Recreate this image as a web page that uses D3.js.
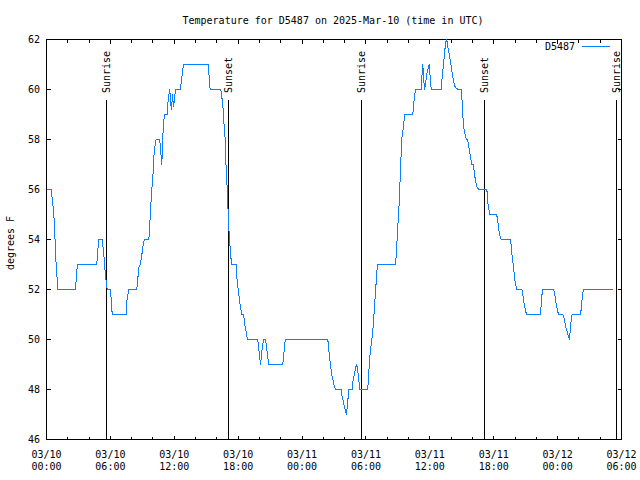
<!DOCTYPE html>
<html><head><meta charset="utf-8">
<script src="https://cdn.jsdelivr.net/npm/d3@7"></script>
<style>
body{margin:0;background:#fff}
svg{display:block}
text{font-family:"DejaVu Sans Mono","Liberation Mono",monospace;font-size:10px;fill:#000}
</style>
</head><body>
<svg id="chart" width="640" height="480"></svg>
<script>
// ---- data (hours since 2025-03-10 00:00 UTC, temperature in F) ----
const hours = [0.00,0.44,0.52,0.56,0.66,0.75,0.85,0.94,1.03,1.08,2.70,2.75,2.82,2.86,2.94,4.72,4.79,4.86,4.91,5.23,
5.29,5.35,5.45,5.51,5.61,5.70,5.98,6.04,6.10,6.17,7.48,7.54,7.64,7.73,8.48,8.57,8.67,8.80,8.89,8.99,
9.08,9.18,9.61,9.67,9.77,9.86,9.98,10.08,10.21,10.30,10.61,10.68,10.77,10.83,10.92,11.02,11.11,11.34,11.39,11.49,
11.58,11.65,11.74,11.83,11.93,12.02,12.11,12.58,12.65,12.74,12.80,12.89,15.19,15.24,15.31,15.37,16.37,16.43,16.53,16.59,
16.69,16.78,16.84,16.90,16.97,17.03,17.09,17.19,17.31,17.40,17.82,17.87,17.97,18.06,18.15,18.25,18.34,18.50,18.57,18.66,
18.75,18.88,19.84,19.91,20.00,20.10,20.22,20.31,20.41,20.57,20.66,20.75,20.88,22.19,22.26,22.35,22.42,26.42,26.51,26.61,
26.70,26.79,26.89,26.98,27.14,27.68,27.73,27.83,27.92,28.05,28.17,28.24,28.33,28.39,28.71,28.77,28.86,28.95,29.05,29.14,
29.24,29.33,29.42,30.17,30.27,30.40,30.52,30.64,30.74,30.83,30.93,31.02,31.11,32.78,32.87,32.96,33.09,33.22,33.31,33.40,
33.53,33.62,34.40,34.47,34.56,34.65,35.19,35.25,35.34,35.41,35.50,35.62,35.71,35.81,35.94,36.03,36.13,37.07,37.16,37.26,
37.35,37.44,37.54,37.63,37.73,37.82,37.91,38.01,38.16,38.25,38.38,38.63,38.95,39.04,39.16,39.42,39.54,39.66,39.82,39.94,
40.10,40.19,40.41,40.60,41.29,41.39,41.44,41.54,41.63,42.23,42.33,42.42,42.51,42.61,42.70,43.58,43.67,43.76,43.86,43.95,
44.05,44.17,44.64,44.73,44.83,44.92,45.01,45.11,46.39,46.49,46.58,47.64,47.74,47.83,47.92,48.02,48.11,48.49,48.58,48.68,
48.77,48.90,49.02,49.12,49.21,49.30,49.37,50.15,50.24,50.34,50.43,53.18];
const temps = [56,56,55.7,55.5,55.2,54.5,53.5,52.7,52.3,52,52,52.2,52.5,52.8,53,53,53.4,53.8,54,54,
53.8,53.5,53.1,52.7,52.3,52,52,51.8,51.5,51,51,51.5,51.8,52,52,52.4,52.9,53,53.2,53.5,
53.8,54,54,54.4,55.1,55.9,56.4,57.3,57.8,58,58,57.8,57.3,57,58.1,58.8,59,59,59.4,59.8,
60,59.5,59.2,59.8,59.3,59.6,60,60,60.3,60.6,60.8,61,61,60.7,60.3,60,60,59.8,59.5,59.2,
58.5,58,57.1,56.7,56,55.4,54.7,54,53.3,53,53,52.5,52.1,51.8,51.5,51.2,51,51,50.8,50.5,
50.3,50,50,49.7,49.4,49,49.5,49.8,50,50,49.7,49.4,49,49,49.3,49.7,50,50,49.6,49.2,
48.9,48.6,48.4,48.2,48,48,47.8,47.6,47.4,47.2,47,47.3,47.7,48,48,48.3,48.5,48.7,48.9,49,
48.7,48.4,48,48,48.7,49.5,49.9,50.3,50.9,51.5,52.1,52.7,53,53,53.5,54.3,55.2,56.5,57.5,58.2,
58.5,59,59,59.4,59.7,60,60,60.5,61,60.5,60,60.3,60.6,60.8,61,60.5,60,60,60.5,60.9,
61.3,61.7,62,61.9,61.6,61.4,61.2,60.9,60.5,60.3,60.1,60,60,59.5,58.5,58,58,57.7,57.3,57,
57,56.6,56.1,56,56,55.9,55.5,55.2,55,55,54.9,54.6,54.3,54.1,54,54,53.6,53.2,52.9,52.5,
52.2,52,52,51.8,51.5,51.3,51.1,51,51,51.6,52,52,51.8,51.5,51.3,51.1,51,51,50.9,50.7,
50.5,50.3,50.1,50,50.5,50.9,51,51,51.3,51.8,52,52];
const eventHours = [5.63, 17.09, 29.58, 41.13, 53.53];
const eventLabels = ["Sunrise", "Sunset", "Sunrise", "Sunset", "Sunrise"];
const yTicks = [46, 48, 50, 52, 54, 56, 58, 60, 62];
const titleText = "Temperature for D5487 on 2025-Mar-10 (time in UTC)";
const seriesName = "D5487";
const yLabelText = "degrees F";

// ---- drawing ----
const t0 = Date.UTC(2025, 2, 10);
const toDate = h => new Date(t0 + h * 3600e3);
const L = 46.5, R = 621.5, T = 39.5, B = 439.5;
const x = d3.scaleUtc().domain([toDate(0), toDate(54)]).range([L, R]);
const y = d3.scaleLinear().domain([46, 62]).range([B, T]);
const svg = d3.select("#chart");
const lineColor = "#0a7fff";

const majorTicks = x.ticks(d3.utcHour.every(6));
const minorTicks = x.ticks(d3.utcHour.every(2)).filter(d => d.getUTCHours() % 6 !== 0);

function styleAxis(g) {
  g.select(".domain").remove();
  g.selectAll("line").attr("stroke", "#000").attr("shape-rendering", "crispEdges");
  g.attr("font-family", null).attr("font-size", null);
}

// minor x ticks (bottom & top)
svg.append("g").attr("transform", `translate(0,${B})`)
  .call(d3.axisBottom(x).tickValues(minorTicks).tickSize(-3).tickFormat("").offset(0)).call(styleAxis);
svg.append("g").attr("transform", `translate(0,${T})`)
  .call(d3.axisTop(x).tickValues(minorTicks).tickSize(-3).tickFormat("").offset(0)).call(styleAxis);
// major x ticks
const fmtDay = d3.utcFormat("%m/%d"), fmtTime = d3.utcFormat("%H:%M");
const xb = svg.append("g").attr("transform", `translate(0,${B})`)
  .call(d3.axisBottom(x).tickValues(majorTicks).tickSize(-4).tickPadding(11).tickFormat("").offset(0)).call(styleAxis);
xb.selectAll(".tick text").each(function(d) {
  const t = d3.select(this).attr("dy", null).attr("y", 18);
  t.append("tspan").attr("x", 0).text(fmtDay(d));
  t.append("tspan").attr("x", 0).attr("dy", 12.5).text(fmtTime(d));
});
svg.append("g").attr("transform", `translate(0,${T})`)
  .call(d3.axisTop(x).tickValues(majorTicks).tickSize(-4).tickFormat("").offset(0)).call(styleAxis);
// y ticks
svg.append("g").attr("transform", `translate(${L},0)`)
  .call(d3.axisLeft(y).tickValues(yTicks).tickSize(-4).tickPadding(6.5).offset(0)).call(styleAxis);
svg.append("g").attr("transform", `translate(${R},0)`)
  .call(d3.axisRight(y).tickValues(yTicks).tickSize(-4).tickFormat("").offset(0)).call(styleAxis);

// border
svg.append("rect").attr("x", L).attr("y", T).attr("width", R - L).attr("height", B - T)
  .attr("fill", "none").attr("stroke", "#000").attr("shape-rendering", "crispEdges");

// sunrise / sunset lines
const ev = svg.append("g");
eventHours.forEach((h, i) => {
  const ex = Math.round(x(toDate(h)) - 0.5) + 0.5;
  ev.append("line").attr("x1", ex).attr("x2", ex).attr("y1", B).attr("y2", 99.5)
    .attr("stroke", "#000").attr("shape-rendering", "crispEdges");
  ev.append("text").attr("transform", `translate(${ex},93) rotate(-90)`)
    .attr("dy", "0.35em").text(eventLabels[i]);
});

// data line
const line = d3.line().x((d, i) => x(toDate(hours[i]))).y(d => y(d));
svg.append("path").datum(temps).attr("d", line)
  .attr("fill", "none").attr("stroke", lineColor).attr("stroke-width", 1)
  .attr("shape-rendering", "crispEdges");

// title, y label
svg.append("text").attr("x", 333).attr("y", 24).attr("text-anchor", "middle").text(titleText);
svg.append("text").attr("transform", `translate(13.5,243) rotate(-90)`)
  .attr("text-anchor", "middle").text(yLabelText);

// legend
svg.append("text").attr("x", 575).attr("y", 49.5).attr("text-anchor", "end").text(seriesName);
svg.append("line").attr("x1", 582).attr("x2", 610).attr("y1", 46.5).attr("y2", 46.5)
  .attr("stroke", lineColor).attr("shape-rendering", "crispEdges");
</script>
</body></html>
